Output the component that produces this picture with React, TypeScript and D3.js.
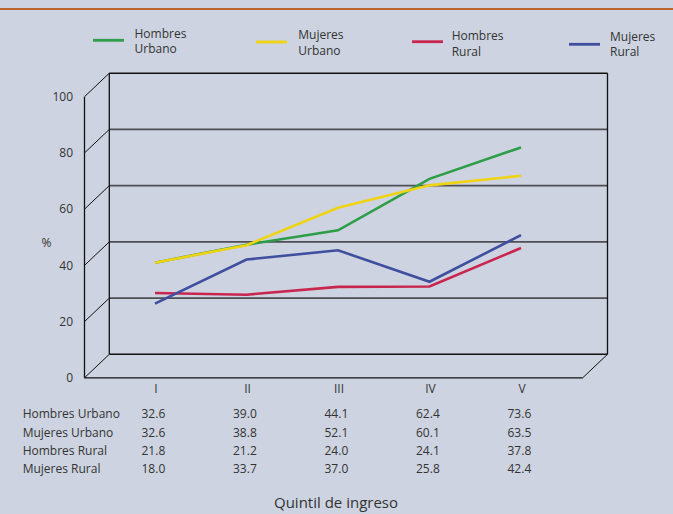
import React from "react";
import * as d3 from "d3";

// Income quintiles and the four population series
const quintiles = ["I", "II", "III", "IV", "V"];
const seriesNames = ["Hombres Urbano", "Mujeres Urbano", "Hombres Rural", "Mujeres Rural"];
const hombresUrbano = [32.6, 39.0, 44.1, 62.4, 73.6];
const mujeresUrbano = [32.6, 38.8, 52.1, 60.1, 63.5];
const hombresRural = [21.8, 21.2, 24.0, 24.1, 37.8];
const mujeresRural = [18.0, 33.7, 37.0, 25.8, 42.4];
const yTicks = [0, 20, 40, 60, 80, 100];
const legendLines = [
  ["Hombres", "Urbano"],
  ["Mujeres", "Urbano"],
  ["Hombres", "Rural"],
  ["Mujeres", "Rural"],
];

const W = 673;
const H = 514;
const BG = "#cdd3e0";
const TEXT = "#333333";
const FONT = "'Open Sans', sans-serif";
const colors = ["#2e9d47", "#f0d312", "#c9264f", "#3f4e9e"];

// Box geometry: front plane and the depth offset to the back wall
const frontLeft = 84.5;
const frontRight = 582.7;
const depthX = 24.8;
const depthY = -23.5;

export default function App() {
  const series = [hombresUrbano, mujeresUrbano, hombresRural, mujeresRural];

  const yFront = d3.scaleLinear().domain([0, 100]).range([377.8, 96.7]);
  const yBack = (v: number) => yFront(v) + depthY;
  const x = d3.scalePoint<string>().domain(quintiles).range([155, 521]);

  const backLeft = frontLeft + depthX;
  const backRight = frontRight + depthX;

  const line = d3
    .line<number>()
    .x((_, i) => x(quintiles[i]) as number)
    .y((v) => yBack(v));

  const legendItems = [
    { x0: 93, lineY: 40.3, tx: 134.5, base: 37.7 },
    { x0: 256, lineY: 42, tx: 298.3, base: 39 },
    { x0: 412, lineY: 41.7, tx: 451.7, base: 40 },
    { x0: 569, lineY: 44.3, tx: 610, base: 40.7 },
  ];

  const rowBase = [418.3, 436.7, 455, 473.3];

  return (
    <svg
      width={W}
      height={H}
      style={{ position: "absolute", left: 0, top: 0, background: BG }}
      fontFamily={FONT}
    >
      <rect x={0} y={0} width={W} height={H} fill={BG} />
      <line x1={0} x2={W} y1={9} y2={9} stroke="#b8642c" strokeWidth={2.2} />

      {/* legend */}
      {legendItems.map((it, i) => (
        <g key={seriesNames[i]}>
          <line
            x1={it.x0}
            x2={it.x0 + 31}
            y1={it.lineY}
            y2={it.lineY}
            stroke={colors[i]}
            strokeWidth={2.8}
          />
          <text x={it.tx} y={it.base} fontSize={12} fill={TEXT}>
            <tspan x={it.tx}>{legendLines[i][0]}</tspan>
            <tspan x={it.tx} dy={15.6}>
              {legendLines[i][1]}
            </tspan>
          </text>
        </g>
      ))}

      {/* back wall gridlines */}
      {yTicks
        .filter((t) => t > 0 && t < 100)
        .map((t) => (
          <line
            key={"g" + t}
            x1={backLeft}
            x2={backRight}
            y1={yBack(t)}
            y2={yBack(t)}
            stroke="#4d4f55"
            strokeWidth={1.6}
          />
        ))}

      {/* side wall diagonals at each tick */}
      {yTicks.map((t) => (
        <line
          key={"d" + t}
          x1={frontLeft}
          y1={yFront(t)}
          x2={backLeft}
          y2={yBack(t)}
          stroke="#111"
          strokeWidth={1}
        />
      ))}

      {/* box edges */}
      <g stroke="#111" fill="none">
        <line x1={frontLeft} x2={frontLeft} y1={yFront(0)} y2={yFront(100)} strokeWidth={1.3} />
        <line x1={backLeft} x2={backLeft} y1={yBack(0)} y2={yBack(100)} strokeWidth={1.3} />
        <line x1={backRight} x2={backRight} y1={yBack(0)} y2={yBack(100)} strokeWidth={1.3} />
        <line x1={backLeft} x2={backRight} y1={yBack(100)} y2={yBack(100)} strokeWidth={1.5} />
        <line x1={backLeft} x2={backRight} y1={yBack(0)} y2={yBack(0)} strokeWidth={1.5} />
        <line x1={frontLeft} x2={frontRight} y1={yFront(0)} y2={yFront(0)} strokeWidth={1.3} />
        <line x1={frontRight} y1={yFront(0)} x2={backRight} y2={yBack(0)} strokeWidth={1} />
      </g>

      {/* y tick labels */}
      {yTicks.map((t) => (
        <text
          key={"t" + t}
          x={73}
          y={yFront(t) + 4.3}
          textAnchor="end"
          fontSize={12}
          fill={TEXT}
        >
          {t}
        </text>
      ))}
      <text x={46.5} y={yFront(48) + 4.3} textAnchor="middle" fontSize={12} fill={TEXT}>
        %
      </text>

      {/* series lines */}
      {series.map((s, i) => (
        <path
          key={"s" + i}
          d={line(s) as string}
          fill="none"
          stroke={colors[i]}
          strokeWidth={2.6}
        />
      ))}

      {/* category labels */}
      {quintiles.map((q) => (
        <text
          key={"q" + q}
          x={(x(q) as number) + 1}
          y={393.3}
          textAnchor="middle"
          fontSize={12}
          fill={TEXT}
        >
          {q}
        </text>
      ))}

      {/* data table */}
      {series.map((s, i) => (
        <g key={"r" + i}>
          <text x={22.7} y={rowBase[i]} fontSize={12} fill={TEXT}>
            {seriesNames[i]}
          </text>
          {s.map((v, j) => (
            <text
              key={j}
              x={(x(quintiles[j]) as number) - 13.5}
              y={rowBase[i]}
              fontSize={12}
              fill={TEXT}
            >
              {v.toFixed(1)}
            </text>
          ))}
        </g>
      ))}

      <text x={336} y={507.5} textAnchor="middle" fontSize={15} fill={TEXT}>
        Quintil de ingreso
      </text>
    </svg>
  );
}
